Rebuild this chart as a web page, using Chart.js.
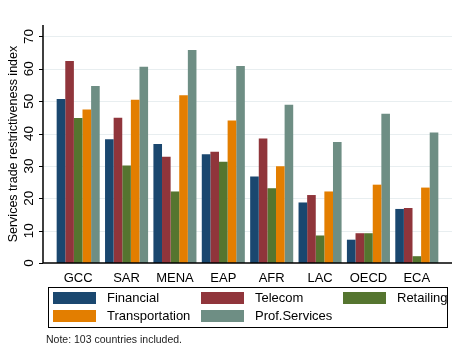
<!DOCTYPE html>
<html>
<head>
<meta charset="utf-8">
<script src="https://cdn.jsdelivr.net/npm/chart.js@4.4.1/dist/chart.umd.min.js"></script>
<style>
  html, body { margin: 0; padding: 0; background: #fff; }
  #wrap { position: relative; width: 455px; height: 351px; font-family: "Liberation Sans", Arial, sans-serif; }
  #chart { position: absolute; left: 0; top: 0; }
  #legend { position: absolute; left: 48px; top: 287px; width: 398px; height: 39px; border: 1px solid #000; }
  .sw { position: absolute; width: 43px; height: 12px; }
  .lb { position: absolute; font-size: 13px; line-height: 14px; color: #000; white-space: nowrap; }
  #note { position: absolute; left: 46px; top: 333px; font-size: 10.5px; color: #222; }
</style>
</head>
<body>
<div id="wrap">
  <canvas id="chart" width="455" height="351"></canvas>
  <div id="legend"></div>
  <div id="note">Note: 103 countries included.</div>
</div>
<script>
// ── Données ────────────────────────────────────────────────────────
const regions      = ["GCC", "SAR", "MENA", "EAP", "AFR", "LAC", "OECD", "ECA"];
const financial    = [50.7, 38.2, 36.8, 33.6, 26.7, 18.7, 7.2, 16.7];
const telecom      = [62.4, 44.9, 32.8, 34.4, 38.5, 21.0, 9.2, 17.0];
const retailing    = [44.8, 30.1, 22.1, 31.3, 23.1, 8.5, 9.2, 2.1];
const transport    = [47.4, 50.4, 51.8, 44.0, 29.9, 22.1, 24.2, 23.3];
const profServices = [54.7, 60.6, 65.8, 60.9, 48.9, 37.4, 46.1, 40.3];
const yTicks       = [0, 10, 20, 30, 40, 50, 60, 70];

const FONT = "'Liberation Sans', Arial, sans-serif";
const AXIS_LEFT = 43, AXIS_RIGHT = 452;

const series = [
  { label: "Financial",      data: financial,    color: "#1a476f" },
  { label: "Telecom",        data: telecom,      color: "#90353b" },
  { label: "Retailing",      data: retailing,    color: "#55752f" },
  { label: "Transportation", data: transport,    color: "#e37e00" },
  { label: "Prof.Services",  data: profServices, color: "#6e8e84" },
];

// ── Axes façon Stata (lignes, grille, graduations) ─────────────────
const stataFrame = {
  id: "stataFrame",
  beforeDatasetsDraw(chart) {
    const { ctx, scales: { y } } = chart;
    ctx.save();
    ctx.strokeStyle = "#e8eef0";
    ctx.lineWidth = 1;
    for (const v of yTicks) {
      if (v === 0) continue;
      const py = Math.round(y.getPixelForValue(v)) + 0.5;
      ctx.beginPath();
      ctx.moveTo(AXIS_LEFT, py);
      ctx.lineTo(AXIS_RIGHT, py);
      ctx.stroke();
    }
    ctx.restore();
  },
  afterDatasetsDraw(chart) {
    const { ctx, scales: { y } } = chart;
    const top = chart.chartArea.top, bottom = y.getPixelForValue(0);
    ctx.save();
    ctx.strokeStyle = "#000";
    ctx.lineWidth = 1.5;
    ctx.beginPath();
    ctx.moveTo(AXIS_LEFT, top);
    ctx.lineTo(AXIS_LEFT, bottom);
    ctx.lineTo(AXIS_RIGHT, bottom);
    ctx.stroke();
    ctx.lineWidth = 1;
    for (const v of yTicks) {
      const py = Math.round(y.getPixelForValue(v)) + 0.5;
      ctx.beginPath();
      ctx.moveTo(AXIS_LEFT - 4, py);
      ctx.lineTo(AXIS_LEFT, py);
      ctx.stroke();
    }
    ctx.restore();
  },
};

const chart = new Chart(document.getElementById("chart"), {
  type: "bar",
  data: {
    labels: regions,
    datasets: series.map((s) => ({
      label: s.label,
      data: s.data,
      backgroundColor: s.color,
      borderWidth: 0,
      barPercentage: 1.0,
      categoryPercentage: 0.89,
    })),
  },
  options: {
    responsive: false,
    animation: false,
    layout: { padding: { top: 8, right: 14, bottom: 63, left: 0 } },
    plugins: {
      legend: { display: false },
      tooltip: { enabled: false },
    },
    scales: {
      x: {
        grid: { display: false, drawTicks: false },
        border: { display: false },
        ticks: { color: "#000", font: { family: FONT, size: 13 }, padding: 8 },
        afterFit: (scale) => { scale.height = 25; },
      },
      y: {
        min: 0,
        max: 73.5,
        grid: { display: false, drawTicks: false },
        border: { display: false },
        ticks: {
          stepSize: 10,
          includeBounds: false,
          minRotation: 90,
          maxRotation: 90,
          crossAlign: "center",
          padding: 17,
          color: "#000",
          font: { family: FONT, size: 13.5 },
        },
        title: {
          display: true,
          text: "Services trade restrictiveness index",
          color: "#000",
          font: { family: FONT, size: 12.5 },
          padding: { top: 6, bottom: 0 },
        },
        afterFit: (scale) => { scale.width = 54; },
      },
    },
  },
  plugins: [stataFrame],
});

// ── Légende HTML en 3 colonnes, encadrée ───────────────────────────
const legendEl = document.getElementById("legend");
const colX = [4, 152, 294];
const rowY = [4, 22];
chart.data.datasets.forEach((ds, i) => {
  const cx = colX[i % 3], cy = rowY[Math.floor(i / 3)];
  const sw = document.createElement("div");
  sw.className = "sw";
  sw.style.left = cx + "px";
  sw.style.top = cy + "px";
  sw.style.background = ds.backgroundColor;
  const lb = document.createElement("div");
  lb.className = "lb";
  lb.style.left = (cx + 54) + "px";
  lb.style.top = (cy - 1) + "px";
  lb.textContent = ds.label;
  legendEl.appendChild(sw);
  legendEl.appendChild(lb);
});
</script>
</body>
</html>
